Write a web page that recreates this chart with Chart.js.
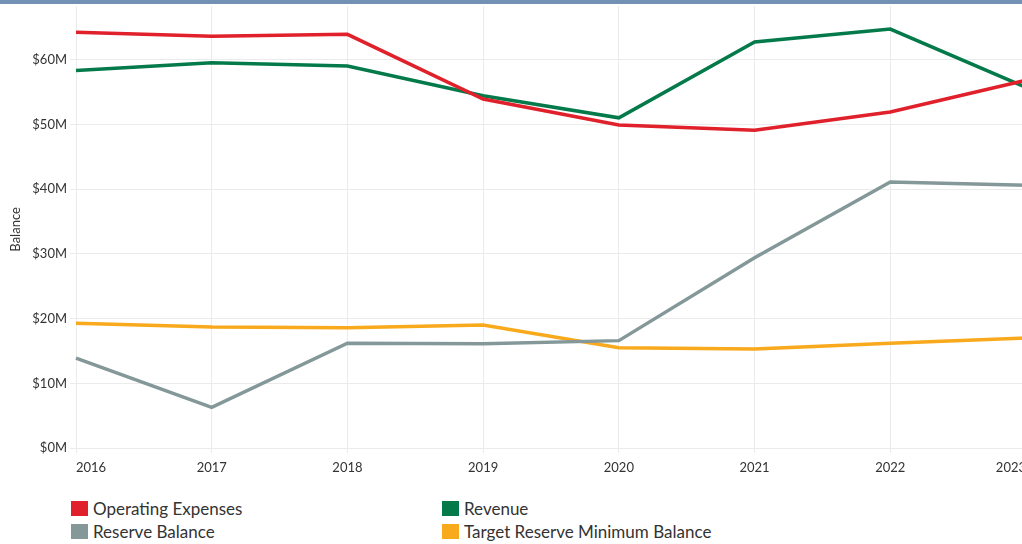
<!DOCTYPE html>
<html>
<head>
<meta charset="utf-8">
<script src="https://cdn.jsdelivr.net/npm/chart.js@4/dist/chart.umd.min.js"></script>
<style>
  html, body { margin: 0; padding: 0; background: #fff; }
  body { width: 1022px; height: 544px; overflow: hidden; position: relative; font-family: Lato, sans-serif; }
  .topbar { position: absolute; left: 0; top: 0; width: 1022px; height: 4px; background: #7391b5; }
  .chart__wrap { position: absolute; left: 0; top: 0; width: 1022px; height: 490px; overflow: hidden; }
  .chart__container { position: absolute; left: 0; top: -5px; width: 1033px; height: 495px; }
  .legend { position: absolute; left: 71px; top: 500px; display: grid; grid-template-columns: 371px 400px; row-gap: 6px; }
  .legend__item { display: flex; align-items: center; height: 17px; font-size: 17px; color: #333; }
  .legend__swatch { width: 17px; height: 15px; margin-right: 5px; flex: none; }
</style>
</head>
<body>
<div class="chart__wrap">
  <div class="chart__container"><canvas id="chart"></canvas></div>
</div>
<div class="topbar"></div>
<div class="legend" id="legend"></div>
<script>
const years = ['2016', '2017', '2018', '2019', '2020', '2021', '2022', '2023'];
const operatingExpenses = [64.2, 63.6, 63.9, 53.9, 49.9, 49.1, 51.9, 56.8];
const revenue = [58.3, 59.5, 59.0, 54.4, 51.0, 62.7, 64.7, 55.7];
const reserveBalance = [13.9, 6.3, 16.2, 16.1, 16.6, 29.4, 41.1, 40.6];
const targetReserve = [19.3, 18.7, 18.6, 19.0, 15.5, 15.3, 16.2, 17.0];
const yTicks = [0, 10, 20, 30, 40, 50, 60];

const seriesColors = ['#e0202a', '#047a4a', '#849899', '#f8a91c'];

const ctx = document.getElementById('chart').getContext('2d');
const chart = new Chart(ctx, {
  type: 'line',
  data: {
    labels: years,
    datasets: [
      { label: 'Operating Expenses', data: operatingExpenses, borderColor: seriesColors[0], backgroundColor: seriesColors[0] },
      { label: 'Revenue', data: revenue, borderColor: seriesColors[1], backgroundColor: seriesColors[1] },
      { label: 'Reserve Balance', data: reserveBalance, borderColor: seriesColors[2], backgroundColor: seriesColors[2] },
      { label: 'Target Reserve Minimum Balance', data: targetReserve, borderColor: seriesColors[3], backgroundColor: seriesColors[3] },
    ],
  },
  options: {
    responsive: true,
    maintainAspectRatio: false,
    animation: false,
    layout: { padding: { top: 5, right: 0, left: 0, bottom: 0 } },
    elements: {
      line: { borderWidth: 3.5, tension: 0 },
      point: { radius: 0 },
    },
    plugins: {
      legend: { display: false },
      tooltip: { enabled: false },
    },
    scales: {
      x: {
        offset: false,
        grid: { color: '#ebebeb', drawTicks: false },
        border: { display: false },
        ticks: { align: 'inner', padding: 7, color: '#333', font: { family: 'Lato', size: 13 } },
        afterFit: (scale) => { scale.height = 37; },
      },
      y: {
        min: -0.75,
        max: 68.3,
        grid: { color: '#ebebeb', tickLength: 6 },
        border: { display: false },
        afterBuildTicks: (scale) => { scale.ticks = yTicks.map((v) => ({ value: v })); },
        ticks: {
          padding: 3,
          color: '#333',
          font: { family: 'Lato', size: 13 },
          callback: (v) => '$' + v + 'M',
        },
        title: { display: true, text: 'Balance', color: '#333', font: { family: 'Lato', size: 13 }, padding: { top: 8, bottom: 0 } },
        afterFit: (scale) => { scale.width = 76; },
      },
    },
  },
});

// html legend, two columns like the original
const legend = document.getElementById('legend');
chart.data.datasets.forEach((ds) => {
  const item = document.createElement('div');
  item.className = 'legend__item';
  item.innerHTML = '<span class="legend__swatch" style="background:' + ds.borderColor + '"></span>' + ds.label;
  legend.appendChild(item);
});
</script>
</body>
</html>
